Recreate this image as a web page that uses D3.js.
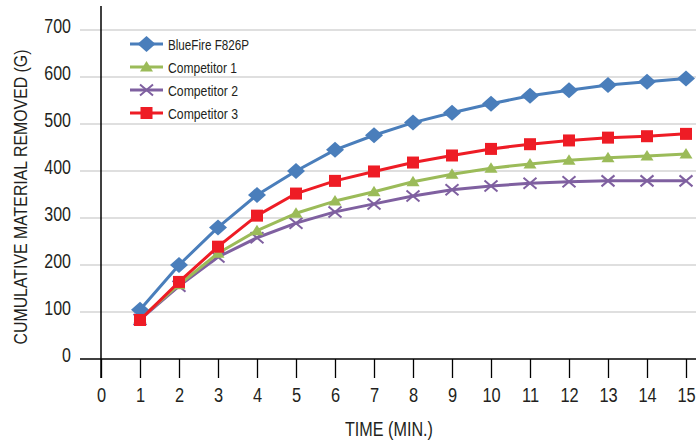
<!DOCTYPE html>
<html><head><meta charset="utf-8">
<script src="https://cdn.jsdelivr.net/npm/d3@7"></script>
<style>
html,body{margin:0;padding:0;background:#fff;}
svg{display:block;}
text{font-family:"Liberation Sans Narrow","Arial Narrow","Liberation Sans",sans-serif;fill:#231f20;}
</style></head>
<body><svg id="c" width="696" height="441"></svg>
<script>
const minutes = [1,2,3,4,5,6,7,8,9,10,11,12,13,14,15];
const blueFire = [105,200,280,349,400,445,476,503,524,543,560,572,583,590,597];
const competitor1 = [86,158,225,273,310,336,356,377,393,406,415,423,428,432,436];
const competitor2 = [84,155,217,258,289,313,330,347,360,368,374,377,379,379,379];
const competitor3 = [83,164,239,305,352,379,399,418,433,447,457,465,471,474,479];
const seriesNames = ["BlueFire F826P","Competitor 1","Competitor 2","Competitor 3"];
const xTicks = [0,1,2,3,4,5,6,7,8,9,10,11,12,13,14,15];
const yTicks = [0,100,200,300,400,500,600,700];

const colors = ["#4a7ebb","#9bbb59","#7f60a0","#ee1c25"];
const markers = ["diamond","triangle","cross","square"];
const seriesData = [blueFire, competitor1, competitor2, competitor3];

const svg = d3.select("#c");
const x = d3.scaleLinear().domain([0,15]).range([101,686]);
const y = d3.scaleLinear().domain([0,700]).range([359,30]);

function condense(sel, ratio){
  sel.each(function(){
    const w = this.getComputedTextLength();
    d3.select(this).attr("textLength", w*ratio).attr("lengthAdjust","spacingAndGlyphs");
  });
}
function fitTo(sel, len){
  sel.attr("textLength", len).attr("lengthAdjust","spacingAndGlyphs");
}

// gridlines
svg.append("g").selectAll("line").data(yTicks.filter(d=>d>0)).join("line")
  .attr("x1",80).attr("x2",696).attr("y1",d=>y(d)).attr("y2",d=>y(d))
  .attr("stroke","#d4d4d4").attr("stroke-width",1.5);

// y tick labels
const yl = svg.append("g").selectAll("text").data(yTicks).join("text")
  .attr("x",71).attr("y",d=>y(d)+2.5)
  .attr("text-anchor","end").attr("font-size",19.5).text(d=>d);
condense(yl, 0.82);

// x axis
const xAxis = d3.axisBottom(x).tickValues(xTicks).tickSize(19).tickPadding(9).tickSizeOuter(0);
const gx = svg.append("g").attr("transform","translate(0,359)").call(xAxis);
gx.select(".domain").remove();
gx.selectAll(".tick line").attr("stroke","#000").attr("stroke-width",1.3);
gx.selectAll(".tick text").attr("font-size",20.5).attr("font-family",null).attr("fill","#231f20")
  .attr("dy",null).attr("y",43);
condense(gx.selectAll(".tick text"), 0.8);
svg.append("line").attr("x1",80).attr("x2",696).attr("y1",359).attr("y2",359)
  .attr("stroke","#000").attr("stroke-width",1.5);
// y axis line
svg.append("line").attr("x1",x(0)).attr("x2",x(0)).attr("y1",6).attr("y2",378)
  .attr("stroke","#000").attr("stroke-width",1.5);

// axis titles
svg.append("text").attr("transform","translate(27,197) rotate(-90)")
  .attr("text-anchor","middle").attr("font-size",19).text("CUMULATIVE MATERIAL REMOVED (G)")
  .call(fitTo, 295);
svg.append("text").attr("x",389).attr("y",436)
  .attr("text-anchor","middle").attr("font-size",21).text("TIME (MIN.)")
  .call(fitTo, 88);

function drawMarker(g, type, color, cx, cy){
  if(type==="diamond"){
    g.append("path").attr("d",`M${cx},${cy-8}L${cx+9},${cy}L${cx},${cy+8}L${cx-9},${cy}Z`).attr("fill",color);
  } else if(type==="square"){
    g.append("rect").attr("x",cx-6).attr("y",cy-6).attr("width",12).attr("height",12).attr("fill",color);
  } else if(type==="triangle"){
    g.append("path").attr("d",`M${cx},${cy-6}L${cx+6.5},${cy+4.5}L${cx-6.5},${cy+4.5}Z`).attr("fill",color);
  } else {
    g.append("path").attr("d",`M${cx-6.5},${cy-5.5}L${cx+6.5},${cy+5.5}M${cx-6.5},${cy+5.5}L${cx+6.5},${cy-5.5}`)
      .attr("stroke",color).attr("stroke-width",2).attr("fill","none");
  }
}

const line = d3.line().x((d,i)=>x(minutes[i])).y(d=>y(d));
const order = [2,1,0,3];
order.forEach(s=>{
  const g = svg.append("g");
  g.append("path").datum(seriesData[s]).attr("d",line)
    .attr("fill","none").attr("stroke",colors[s]).attr("stroke-width",3).attr("stroke-linejoin","round");
  seriesData[s].forEach((v,i)=>drawMarker(g, markers[s], colors[s], x(minutes[i]), y(v)));
});

// legend
const legendY = [44,67,90,113];
const legendW = [81,69,70,70];
seriesNames.forEach((n,i)=>{
  const g = svg.append("g");
  g.append("line").attr("x1",130).attr("x2",163).attr("y1",legendY[i]).attr("y2",legendY[i])
    .attr("stroke",colors[i]).attr("stroke-width",3);
  drawMarker(g, markers[i], colors[i], 146.5, legendY[i]);
  g.append("text").attr("x",168).attr("y",legendY[i]+5.5).attr("font-size",15.5).text(n)
    .call(fitTo, legendW[i]);
});
</script></body></html>
